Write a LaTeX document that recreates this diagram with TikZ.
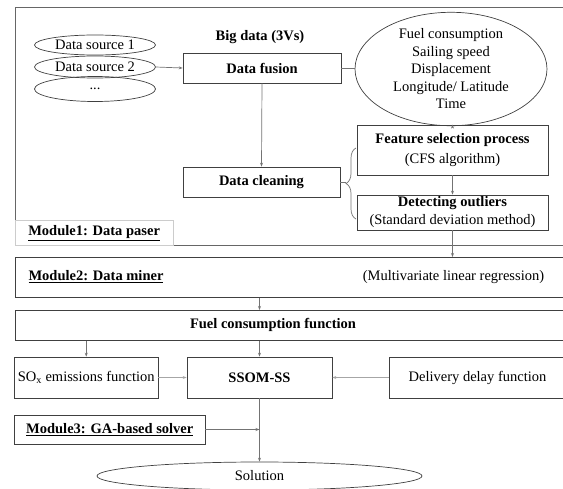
\documentclass[tikz,border=0pt]{standalone}
\usepackage{fontspec}
\setmainfont{Liberation Serif}
\usetikzlibrary{arrows.meta,decorations.pathreplacing,shapes.geometric}
\begin{document}
\begin{tikzpicture}[x=1pt,y=-1pt,
  txt/.style={inner sep=0pt, align=center, font=\fontsize{14.5}{17.5}\selectfont},
  btxt/.style={txt, font=\fontsize{14.5}{17.5}\selectfont\bfseries},
  box/.style={draw=black!75, line width=0.7pt},
  ell/.style={ellipse, draw=black!75, line width=0.7pt},
  conn/.style={draw=black!55, line width=0.7pt},
  arr/.style={conn, -{Stealth[length=4pt,width=3pt]}}]
\useasboundingbox (0,0) rectangle (563,488);
\clip (0,0) rectangle (563,488);

% Module 1
\node[txt, box, draw=black!60, anchor=north west, minimum width=560, minimum height=238] (m1) at (14.5,7) {};
\node[btxt, box, draw=black!20, anchor=north west, minimum width=158.5, minimum height=25] (m1lab) at (14.5,220) {\underline{Module1: Data paser}};

\node[txt, ell, minimum width=121, minimum height=25] (ds3) at (95,89) {...};
\node[txt, ell, minimum width=121, minimum height=22] (ds2) at (95,67) {Data source 2};
\node[txt, ell, minimum width=121, minimum height=20] (ds1) at (95,45) {Data source 1};

\node[btxt] (bigdata) at (260,37) {Big data (3Vs)};
\node[btxt, box, minimum width=158, minimum height=30] (fusion) at (262,68) {Data fusion};
\node[txt, ell, minimum width=192, minimum height=98] (featell) at (451,69)
  {Fuel consumption\\Sailing speed\\Displacement\\Longitude/ Latitude\\Time};
\node[txt, box, minimum width=191, minimum height=50, font=\fontsize{14.5}{20}\selectfont] (featbox) at (452.5,150)
  {\textbf{Feature selection process}\\(CFS algorithm)};
\node[txt, box, minimum width=191, minimum height=35, font=\fontsize{14.5}{18}\selectfont] (det) at (452.5,212.5)
  {\textbf{Detecting outliers}\\(Standard deviation method)};
\node[btxt, box, minimum width=157, minimum height=30] (clean) at (261.5,182) {Data cleaning};
\coordinate (bracetip) at (346,182);

% Module 2
\node[txt, box, anchor=north west, minimum width=560, minimum height=40] (m2) at (14.5,257) {};
\node[btxt] (m2lab) at (96,277) {\underline{Module2: Data miner}};
\node[txt] (mlr) at (453.5,277) {(Multivariate linear regression)};

% Fuel consumption function
\node[txt, box, anchor=north west, minimum width=560, minimum height=30] (fcf) at (14.5,310) {};
\node[btxt] (fcft) at (273,325) {Fuel consumption function};

\node[txt, box, minimum width=143.5, minimum height=41] (sox) at (86.25,377.5) {SO\textsubscript{x} emissions function};
\node[btxt, box, minimum width=145, minimum height=41] (ssom) at (259.5,377.5) {SSOM-SS};
\node[txt, box, minimum width=177, minimum height=41] (deliv) at (477.5,377.5) {Delivery delay function};

% Module 3
\node[btxt, box, minimum width=190.5, minimum height=29] (m3) at (109.75,429.5) {\underline{Module3: GA-based solver}};
\node[txt, ell, minimum width=325, minimum height=28] (sol) at (259.5,476) {Solution};

% connectors
\draw[arr] (ds2.east) -- (fusion.west);
\draw[conn] (fusion.east) -- (featell.west |- fusion.east);
\draw[arr] (featell.south -| featbox.north) -- (featbox.north);
\draw[arr] (featbox.south) -- (det.north);
\draw[arr] (fusion.south) -- (clean.north);
\draw[conn] (clean.east) -- (bracetip);
\draw[conn, decorate, decoration={brace, amplitude=10pt}] (356,219) -- (356,148);
\draw[arr] (det.south) -- (det.south |- m2.north);
\draw[arr] (ssom.north |- m2.south) -- (ssom.north |- fcf.north);
\draw[arr] (sox.north |- fcf.south) -- (sox.north);
\draw[arr] (ssom.north |- fcf.south) -- (ssom.north);
\draw[arr, draw=black!35] (sox.east) -- (ssom.west);
\draw[arr, draw=black!35] (deliv.west) -- (ssom.east);
\draw[arr] (m3.east) -- (ssom.south |- m3.east);
\draw[arr] (ssom.south) -- (sol.north);
\end{tikzpicture}
\end{document}
